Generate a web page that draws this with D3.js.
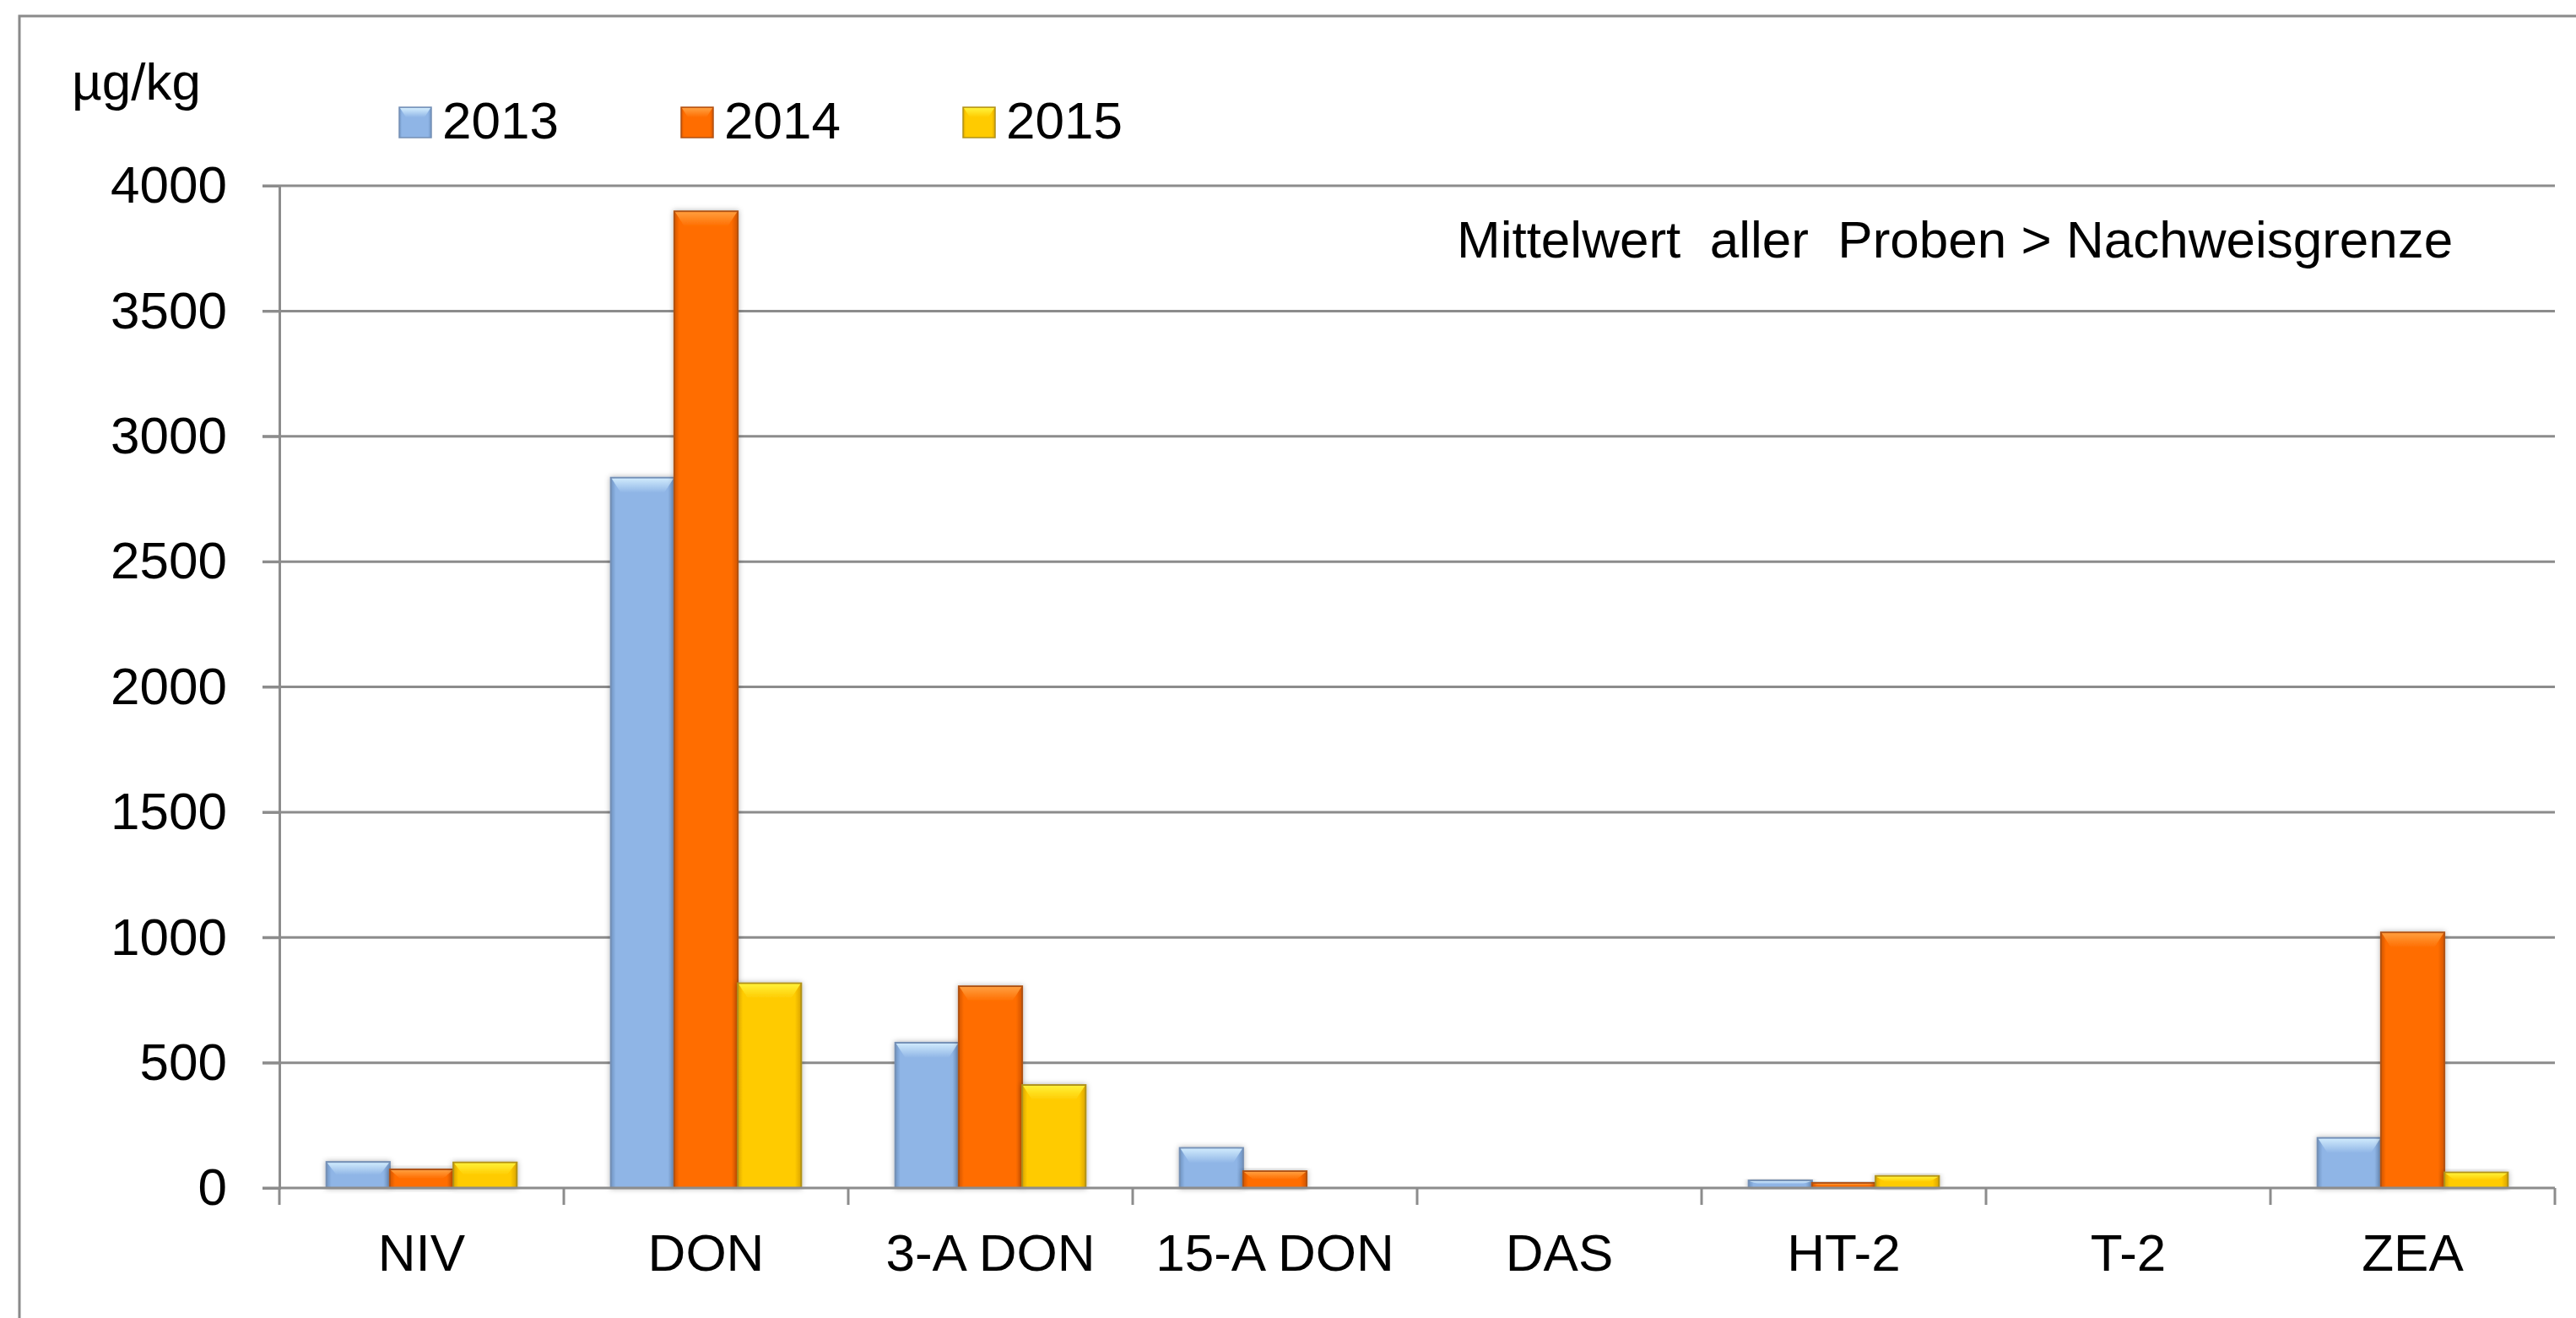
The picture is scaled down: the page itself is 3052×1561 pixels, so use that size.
<!DOCTYPE html>
<html lang="de">
<head>
<meta charset="UTF-8">
<title>Mittelwert aller Proben</title>
<style>
  body { margin: 0; padding: 0; background: #fff; }
  svg text { font-family: "Liberation Sans", Arial, sans-serif; fill: #000; }
</style>
</head>
<body>
<div id="chart"></div>
<script src="https://cdnjs.cloudflare.com/ajax/libs/d3/7.8.5/d3.min.js"></script>
<script>
// data
const categories = ["NIV", "DON", "3-A DON", "15-A DON", "DAS", "HT-2", "T-2", "ZEA"];
const years = ["2013", "2014", "2015"];
const values2013 = [104, 2835, 580, 160, 0, 30, 2, 200];
const values2014 = [74, 3898, 805, 67, 0, 20, 2, 1020];
const values2015 = [102, 817, 411, 0, 0, 48, 2, 62];
const yTicks = [0, 500, 1000, 1500, 2000, 2500, 3000, 3500, 4000];

const series = [values2013, values2014, values2015];

const W = 3052, H = 1561;
const plotLeft = 331, plotRight = 3027, plotTop = 220, plotBottom = 1407;
const fontSize = 62;

// colours: body, darker edge, bevel highlight
const palette = {
  "2013": { body: "#8fb5e6", edge: "#6f93c2", light: "#d2ecfd", stroke: "#7590b5" },
  "2014": { body: "#ff6d00", edge: "#d35500", light: "#ffa040", stroke: "#b05214" },
  "2015": { body: "#ffcb00", edge: "#dba400", light: "#fff23a", stroke: "#b0921a" }
};

const svg = d3.select("#chart").append("svg")
  .attr("width", W).attr("height", H);

const defs = svg.append("defs");
years.forEach(yr => {
  const c = palette[yr];
  const g = defs.append("linearGradient").attr("id", "body" + yr)
    .attr("x1", "0").attr("x2", "1").attr("y1", "0").attr("y2", "0");
  g.append("stop").attr("offset", "0").attr("stop-color", c.edge);
  g.append("stop").attr("offset", "0.08").attr("stop-color", c.body);
  g.append("stop").attr("offset", "0.9").attr("stop-color", c.body);
  g.append("stop").attr("offset", "1").attr("stop-color", c.edge);
  const b = defs.append("linearGradient").attr("id", "bevel" + yr)
    .attr("x1", "0").attr("x2", "0").attr("y1", "0").attr("y2", "1");
  b.append("stop").attr("offset", "0").attr("stop-color", c.light);
  b.append("stop").attr("offset", "1").attr("stop-color", c.body);
});
const shadow = defs.append("filter").attr("id", "shadow")
  .attr("x", "-20%").attr("y", "-20%").attr("width", "140%").attr("height", "140%");
shadow.append("feDropShadow").attr("dx", 0).attr("dy", 0).attr("stdDeviation", 3)
  .attr("flood-color", "#000").attr("flood-opacity", 0.3);

// outer frame (only top and left edges are inside the picture)
svg.append("rect").attr("x", 23).attr("y", 19).attr("width", W).attr("height", H)
  .attr("fill", "none").attr("stroke", "#8a8a8a").attr("stroke-width", 3);

const y = d3.scaleLinear().domain([0, 4000]).range([plotBottom, plotTop]);
const x0 = d3.scaleBand().domain(categories).range([plotLeft, plotRight]);
const x1 = d3.scaleBand().domain(years).range([0, x0.bandwidth()]).paddingOuter(0.74);

// gridlines
svg.append("g").selectAll("line").data(yTicks.slice(1)).join("line")
  .attr("x1", plotLeft - 20).attr("x2", plotRight)
  .attr("y1", d => y(d)).attr("y2", d => y(d))
  .attr("stroke", "#8c8c8c").attr("stroke-width", 3);

// y axis
const yAxis = svg.append("g").attr("transform", `translate(${plotLeft},0)`)
  .call(d3.axisLeft(y).tickValues(yTicks).tickFormat(d3.format("d"))
    .tickSize(20).tickPadding(42));
yAxis.select(".domain").attr("stroke", "#8c8c8c").attr("stroke-width", 3);
yAxis.selectAll(".tick line").attr("stroke", "#8c8c8c").attr("stroke-width", 3);
yAxis.selectAll(".tick text").attr("font-size", fontSize)
  .style("font-family", "'Liberation Sans', Arial, sans-serif").attr("fill", "#000");

// bars
const groups = svg.append("g").selectAll("g").data(categories).join("g")
  .attr("transform", d => `translate(${x0(d)},0)`);

groups.each(function(cat, ci) {
  const g = d3.select(this);
  years.forEach((yr, si) => {
    const v = series[si][ci];
    if (v <= 0) return;
    const bx = x1(yr), bw = x1.bandwidth();
    const by = y(v), bh = plotBottom - by;
    const bev = Math.min(18, bh / 2);
    const ins = Math.min(12, bw / 4);
    const bar = g.append("g").attr("filter", "url(#shadow)");
    bar.append("rect").attr("x", bx).attr("y", by).attr("width", bw).attr("height", bh)
      .attr("fill", `url(#body${yr})`).attr("stroke", palette[yr].stroke).attr("stroke-width", 2);
    bar.append("path")
      .attr("d", `M${bx + 1},${by + 1} L${bx + bw - 1},${by + 1} L${bx + bw - ins},${by + bev} L${bx + ins},${by + bev} Z`)
      .attr("fill", `url(#bevel${yr})`).attr("opacity", 0.95);
  });
});

// x axis
svg.append("line").attr("x1", plotLeft - 20).attr("x2", plotRight)
  .attr("y1", plotBottom).attr("y2", plotBottom)
  .attr("stroke", "#8c8c8c").attr("stroke-width", 3);
const xEdges = categories.map(c => x0(c)).concat([plotRight]);
svg.append("g").selectAll("line").data(xEdges).join("line")
  .attr("x1", d => d).attr("x2", d => d)
  .attr("y1", plotBottom).attr("y2", plotBottom + 20)
  .attr("stroke", "#8c8c8c").attr("stroke-width", 3);
svg.append("g").selectAll("text").data(categories).join("text")
  .attr("x", d => x0(d) + x0.bandwidth() / 2).attr("y", 1505)
  .attr("text-anchor", "middle").attr("font-size", fontSize)
  .text(d => d);

// unit label
svg.append("text").attr("x", 85).attr("y", 118).attr("font-size", fontSize).text("µg/kg");

// legend
const legend = svg.append("g");
years.forEach((yr, i) => {
  const lx = 473 + i * 334;
  const c = palette[yr];
  legend.append("rect").attr("x", lx).attr("y", 127).attr("width", 38).attr("height", 36)
    .attr("fill", `url(#body${yr})`).attr("stroke", c.stroke).attr("stroke-width", 1.5);
  legend.append("path")
    .attr("d", `M${lx + 1},128 L${lx + 37},128 L${lx + 30},139 L${lx + 8},139 Z`)
    .attr("fill", `url(#bevel${yr})`);
  legend.append("text").attr("x", lx + 51).attr("y", 164).attr("font-size", fontSize).text(yr);
});

// annotation
svg.append("text").attr("x", 1726).attr("y", 305).attr("font-size", fontSize)
  .style("white-space", "pre")
  .text("Mittelwert  aller  Proben > Nachweisgrenze");
</script>
</body>
</html>
